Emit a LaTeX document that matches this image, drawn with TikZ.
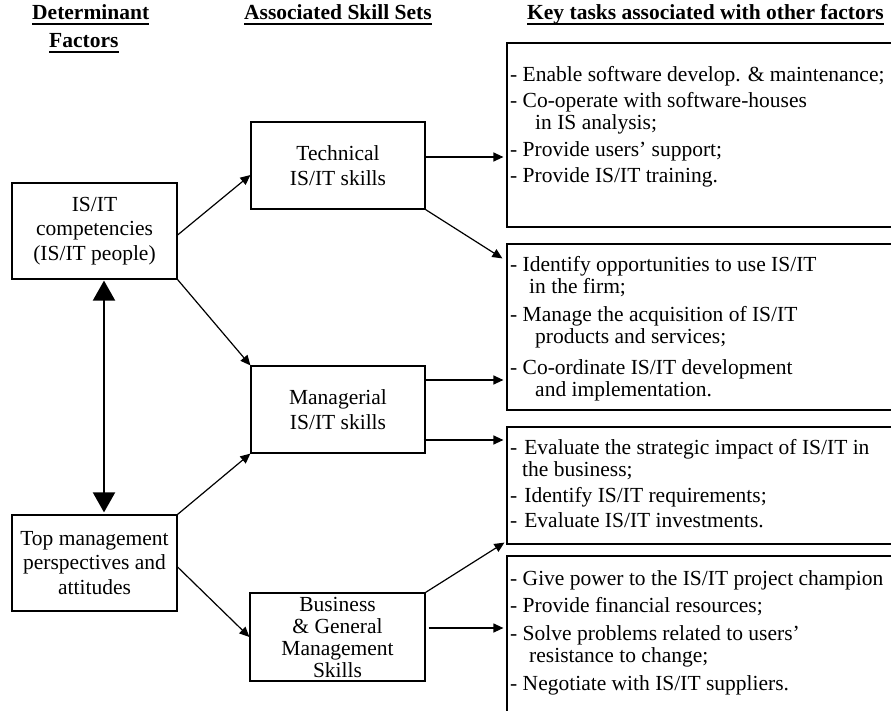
\documentclass[tikz,border=0pt]{standalone}
\usepackage{fontspec}
\setmainfont{Liberation Serif}
\usetikzlibrary{arrows.meta,calc}

\begin{document}
\begin{tikzpicture}[x=1pt,y=-1pt,
  skillbox/.style={draw, line width=1.2pt, rectangle, align=center, inner sep=0pt,
    font=\fontsize{21.5}{24.5}\selectfont},
  taskbox/.style={draw, line width=1.2pt, rectangle, inner sep=0pt},
  % the base of a multi-line text node is the baseline of its last line
  tasktext/.style={anchor=base west, align=left, inner sep=0pt,
    font=\fontsize{21.5}{22}\selectfont},
  header/.style={anchor=base west, inner sep=0pt,
    font=\fontsize{21.5}{24}\selectfont\bfseries},
  hline/.style={line width=2.2pt},
  arr/.style={line width=1.2pt, -{Triangle[length=10pt,width=9pt]}},
  bigarr/.style={line width=2pt, {Triangle[length=20pt,width=22pt]}-{Triangle[length=20pt,width=22pt]}}
]
\useasboundingbox (0,0) rectangle (891,711);

% column headings
\node[header] (hdA) at (32,20) {Determinant};
\node[header] (hdB) at (49,48) {Factors};
\node[header] (hdC) at (244,20) {Associated Skill Sets};
\node[header] (hdD) at (527,20) {Key tasks associated with other factors};
\foreach \h in {hdA,hdB,hdC,hdD}
  \draw[hline] ([yshift=-3.7pt]\h.base west) -- ([yshift=-3.7pt]\h.base east);

% determinant factors
\node[skillbox, minimum width=165pt, minimum height=96pt] (comp) at (94.5,231)
  {IS/IT\\competencies\\(IS/IT people)};
\node[skillbox, minimum width=165pt, minimum height=96pt] (top) at (94.5,563)
  {Top management\\perspectives and\\attitudes};

% skill sets
\node[skillbox, minimum width=174pt, minimum height=87pt] (tech) at (338,165.5)
  {Technical\\IS/IT skills};
\node[skillbox, minimum width=174pt, minimum height=87pt] (mgr) at (338,409.5)
  {Managerial\\IS/IT skills};
\node[skillbox, minimum width=175pt, minimum height=88pt, font=\fontsize{21.5}{22}\selectfont] (bus) at (337.5,637)
  {Business\\\& General\\Management\\Skills};

% task boxes
\node[taskbox, minimum width=386pt, minimum height=184pt] (t1) at (700,135) {};
\node[taskbox, minimum width=386pt, minimum height=166pt] (t2) at (700,327) {};
\node[taskbox, minimum width=386pt, minimum height=117pt] (t3) at (700,485.5) {};
\node[taskbox, minimum width=386pt, minimum height=164pt] (t4) at (700,638) {};

\node[tasktext] (t1txt) at (510,183)
  {- Enable software develop. \& maintenance;\\[4.5pt]
   - Co-operate with software-houses\\
   \hspace*{25pt}in IS analysis;\\[4.5pt]
   - Provide users' support;\\[4.5pt]
   - Provide IS/IT training.};
\node[tasktext] (t2txt) at (510,396)
  {- Identify opportunities to use IS/IT\\
   \hspace*{19pt}in the firm;\\[6pt]
   - Manage the acquisition of IS/IT\\
   \hspace*{25pt}products and services;\\[9pt]
   - Co-ordinate IS/IT development\\
   \hspace*{25pt}and implementation.};
\node[tasktext] (t3txt) at (510,527)
  {-\hspace{7pt}Evaluate the strategic impact of IS/IT in\\
   \hspace*{12pt}the business;\\[4pt]
   -\hspace{7pt}Identify IS/IT requirements;\\[3pt]
   -\hspace{7pt}Evaluate IS/IT investments.};
\node[tasktext] (t4txt) at (510,690)
  {- Give power to the IS/IT project champion\\[5pt]
   - Provide financial resources;\\[6pt]
   - Solve problems related to users'\\
   \hspace*{19pt}resistance to change;\\[6pt]
   - Negotiate with IS/IT suppliers.};

% connectors
\draw[arr] ([yshift=-4pt]comp.east) -- ([yshift=-9.5pt]tech.west);
\draw[arr] (comp.south east) -- (mgr.north west);
\draw[arr] (top.north east) -- (mgr.south west);
\draw[arr] ([yshift=-4pt]top.east) -- (bus.west);
\draw[bigarr, shorten <=1pt, shorten >=2pt] ([xshift=9.5pt]comp.south) -- ([xshift=9.5pt]top.north);

\draw[arr, shorten >=3pt] ([yshift=8.5pt]tech.east) -- ([yshift=8.5pt]tech.east -| t1.west);
\draw[arr] (tech.south east) -- ([xshift=-4pt,yshift=-15pt]t2.north west);
\draw[arr, shorten >=3pt] ([yshift=29.5pt]mgr.east) -- ([yshift=29.5pt]mgr.east -| t2.west);
\draw[arr, shorten >=3pt] ([xshift=-2pt,yshift=-30.5pt]mgr.east) -- ([yshift=-30.5pt]mgr.east -| t3.west);
\draw[arr] (bus.north east) -- ([xshift=-2pt,yshift=2pt]t3.south west);
\draw[arr, shorten >=3pt] ([xshift=3pt,yshift=9pt]bus.east) -- ([yshift=9pt]bus.east -| t4.west);
\end{tikzpicture}
\end{document}
